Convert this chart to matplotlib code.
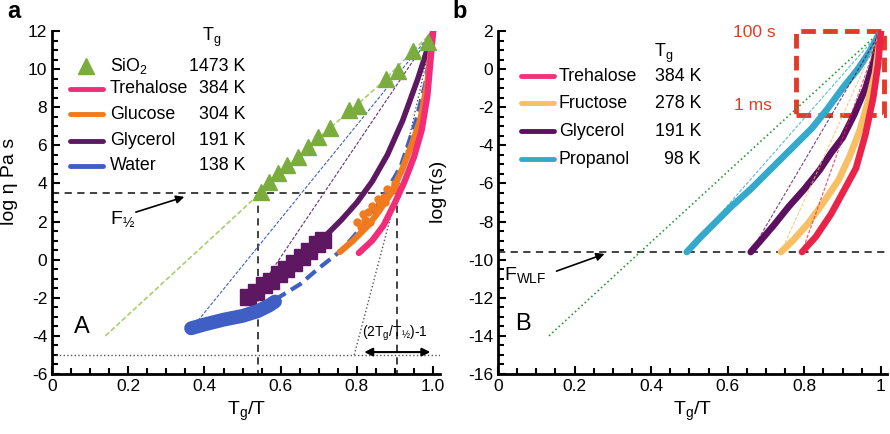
import numpy as np
import matplotlib.pyplot as plt
from matplotlib.patches import Rectangle

plt.rcParams['font.family'] = ['Liberation Sans', 'DejaVu Sans']
plt.rcParams['mathtext.default'] = 'regular'
plt.rcParams['axes.unicode_minus'] = False

# ---------------- panel a : log viscosity vs Tg/T ----------------
sio2_x = [0.549, 0.570, 0.593, 0.617, 0.646, 0.672, 0.698, 0.730, 0.780, 0.803, 0.877, 0.908, 0.948, 0.987]
sio2_y = [3.54, 4.07, 4.54, 4.96, 5.38, 5.91, 6.44, 6.91, 7.85, 8.06, 9.48, 9.90, 10.95, 11.42]
sio2_line_x = [0.14, 0.549, 0.70, 0.85, 1.0]
sio2_line_y = [-4.0, 3.54, 6.4, 9.0, 12.0]

treh_x = [0.805, 0.84, 0.87, 0.90, 0.925, 0.95, 0.97, 0.985, 1.0]
treh_y = [0.35, 1.0, 1.8, 3.0, 4.1, 5.4, 6.8, 8.6, 12.0]

gluc_x = [0.755, 0.79, 0.83, 0.86, 0.89, 0.92, 0.945, 0.967, 0.985, 1.0]
gluc_y = [0.4, 1.0, 1.8, 2.6, 3.5, 4.8, 6.1, 7.4, 9.3, 12.0]
gluc_pts_x = [0.80, 0.81, 0.815, 0.82, 0.83, 0.835, 0.84, 0.85, 0.855, 0.86, 0.87, 0.875, 0.88, 0.89, 0.90, 0.905]
gluc_pts_y = [2.0, 1.7, 2.4, 2.1, 2.5, 2.0, 2.8, 2.6, 3.2, 2.9, 3.3, 3.0, 3.7, 3.6, 4.0, 3.7]

glyc_sq_x = [0.515, 0.535, 0.555, 0.575, 0.595, 0.615, 0.635, 0.655, 0.675, 0.695, 0.712]
glyc_sq_y = [-1.95, -1.7, -1.35, -1.1, -0.75, -0.5, -0.15, 0.15, 0.45, 0.8, 1.05]
glyc_x = [0.72, 0.76, 0.80, 0.84, 0.88, 0.92, 0.96, 1.0]
glyc_y = [1.3, 2.1, 3.0, 4.1, 5.5, 7.3, 9.5, 12.0]
glyc_fit = ([0.572, 1.0], [-0.7, 12.0])

water_blob_x = [0.365, 0.40, 0.45, 0.50, 0.54, 0.57, 0.585]
water_blob_y = [-3.6, -3.4, -3.15, -2.95, -2.7, -2.4, -2.2]
water_x = [0.585, 0.65, 0.70, 0.76, 0.83, 0.875, 0.915, 0.955, 0.98, 1.0]
water_y = [-2.1, -1.3, -0.45, 0.5, 2.1, 3.5, 4.9, 7.3, 9.3, 12.0]
water_fit = ([0.383, 1.0], [-3.2, 12.0])

tangent_x = [0.793, 0.905, 1.0]
tangent_y = [-5.0, 3.5, 12.0]

names_a = ['SiO$_2$', 'Trehalose', 'Glucose', 'Glycerol', 'Water']
tg_a = ['1473 K', '384 K', '304 K', '191 K', '138 K']
col_a = ['#7aad3e', '#f22c78', '#f27a1e', '#5e1862', '#3f5fc4']

# ---------------- panel b : log tau vs Tg/T ----------------
green_b = ([0.133, 1.0], [-14.0, 2.0])

treh_b_x = [0.794, 0.83, 0.87, 0.90, 0.935, 0.96, 0.98, 0.993, 1.0]
treh_b_y = [-9.6, -8.8, -7.6, -6.5, -5.2, -3.4, -1.5, 0.3, 2.0]
fruc_x = [0.739, 0.77, 0.81, 0.85, 0.89, 0.92, 0.945, 0.965, 0.985, 1.0]
fruc_y = [-9.6, -9.0, -8.1, -7.0, -5.8, -4.5, -3.2, -1.8, -0.2, 2.0]
glyc_b_x = [0.66, 0.69, 0.72, 0.76, 0.80, 0.84, 0.87, 0.90, 0.93, 0.96, 0.98, 1.0]
glyc_b_y = [-9.6, -8.9, -8.2, -7.2, -6.3, -5.3, -4.4, -3.6, -2.4, -1.0, 0.3, 2.0]
prop_x = [0.493, 0.53, 0.57, 0.61, 0.66, 0.70, 0.74, 0.78, 0.82, 0.86, 0.90, 0.94, 0.97, 1.0]
prop_y = [-9.6, -8.8, -8.0, -7.2, -6.3, -5.5, -4.7, -3.9, -3.1, -2.1, -1.0, 0.0, 0.9, 2.0]

names_b = ['Trehalose', 'Fructose', 'Glycerol', 'Propanol']
tg_b = ['384 K', '278 K', '191 K', '98 K']
col_b = ['#ea2448', '#f8c063', '#5e1060', '#35a9cc']
leg_b = ['#f0337a', '#f8c063', '#5e1060', '#35a9cc']

fig = plt.figure(figsize=(8.9, 4.34), dpi=100)
axa = fig.add_axes([52 / 890, 60 / 434, 388 / 890, 343 / 434])
axb = fig.add_axes([498 / 890, 60 / 434, 389 / 890, 343 / 434])


def style(ax, ylim, xlim, xlabels, ylabel, lx, ly):
    ax.set_xlim(*xlim)
    ax.set_ylim(*ylim)
    for s in ['top', 'right']:
        ax.spines[s].set_visible(False)
    for s in ['left', 'bottom']:
        ax.spines[s].set_linewidth(2)
    ax.set_xticks([0, 0.2, 0.4, 0.6, 0.8, 1.0], xlabels)
    ax.set_xticks(np.arange(0, 1.01, 0.05), minor=True)
    ax.set_yticks(np.arange(ylim[0], ylim[1] + 0.1, 2))
    ax.set_yticks(np.arange(ylim[0], ylim[1] + 0.1, 0.5), minor=True)
    ax.tick_params(which='both', direction='in', width=1.5, labelsize=12.5)
    ax.tick_params(which='major', length=6)
    ax.tick_params(which='minor', length=4)
    ax.set_xlabel('T$_g$/T', fontsize=14, labelpad=4)
    ax.set_ylabel(ylabel, fontsize=14)
    ax.yaxis.set_label_coords(lx, ly)


style(axa, (-6, 12), (0, 1.018), ['0', '0.2', '0.4', '0.6', '0.8', '1.0'], 'log η Pa s', -0.088, 0.56)
style(axb, (-16, 2), (0, 1.016), ['0', '0.2', '0.4', '0.6', '0.8', '1'], 'log τ(s)', -0.13, 0.53)

# ---- panel a drawing ----
ref = dict(color='#333333', lw=1.3, dashes=(4, 3))
axa.axhline(3.5, **ref)
axa.plot([0.541, 0.541], [3.5, -6], **ref)
axa.plot([0.905, 0.905], [3.5, -6], **ref)
axa.axhline(-5.0, color='#555555', lw=1.0, ls=':')
axa.plot(tangent_x, tangent_y, color='#555555', lw=1.0, ls=':')

axa.plot(sio2_line_x, sio2_line_y, color='#a9cf6a', lw=1.2, dashes=(3, 1.5))
axa.plot(*water_fit, color='#3f5fc4', lw=0.8, dashes=(3, 1.5))
axa.plot(*glyc_fit, color='#6e2a74', lw=0.8, dashes=(3, 1.5))

axa.plot(glyc_x, glyc_y, color=col_a[3], lw=4, solid_capstyle='round')
axa.plot(glyc_sq_x, glyc_sq_y, 's', color=col_a[3], ms=12, mec=col_a[3])
axa.plot(water_blob_x, water_blob_y, color=col_a[4], lw=10, solid_capstyle='round')
axa.plot(water_x, water_y, color=col_a[4], lw=3, dashes=(3, 1.5))
axa.plot(gluc_x, gluc_y, color=col_a[2], lw=4.5, solid_capstyle='round')
axa.plot(gluc_pts_x, gluc_pts_y, 'o', color=col_a[2], ms=5)
axa.plot(treh_x, treh_y, color=col_a[1], lw=4.5, solid_capstyle='round')
axa.plot(sio2_x, sio2_y, '^', color=col_a[0], ms=11, mec=col_a[0])

axa.annotate('', xy=(0.354, 3.34), xytext=(0.213, 2.45),
             arrowprops=dict(arrowstyle='-|>', color='black', lw=1.2, mutation_scale=12))
axa.text(0.152, 2.1, 'F$_{½}$', fontsize=14, va='center')
axa.annotate('', xy=(0.812, -4.85), xytext=(1.0, -4.85),
             arrowprops=dict(arrowstyle='<|-|>', color='black', lw=1.5, mutation_scale=12))
axa.text(0.9, -3.85, '(2T$_g$/T$_{½}$)-1', fontsize=10, ha='center', va='center')
axa.text(0.078, -3.55, 'A', fontsize=17, ha='center', va='center')

# legend a
rows_a = [10.16, 8.96, 7.64, 6.23, 4.92]
axa.text(0.42, 11.68, 'T$_g$', fontsize=13, ha='center', va='center')
for i, (n, t, c) in enumerate(zip(names_a, tg_a, col_a)):
    y = rows_a[i]
    if i == 0:
        axa.plot(0.09, y, '^', color=c, ms=12, mec=c)
    else:
        axa.plot([0.047, 0.134], [y, y], color=c, lw=3.5, solid_capstyle='round')
    axa.text(0.152, y, n, fontsize=12.8, va='center')
    axa.text(0.507, y, t, fontsize=12.8, va='center', ha='right')

# ---- panel b drawing ----
axb.axhline(-9.6, **ref)
axb.plot(*green_b, color='#2e9a3c', lw=1.2, ls=':')
for xs, ys, c in [(prop_x, prop_y, col_b[3]), (glyc_b_x, glyc_b_y, col_b[2]),
                  (fruc_x, fruc_y, col_b[1]), (treh_b_x, treh_b_y, col_b[0])]:
    axb.plot([xs[0], xs[-1]], [ys[0], ys[-1]], color=c, lw=0.8, dashes=(3, 1.5), alpha=0.8)
    axb.plot(xs, ys, color=c, lw=4.8, solid_capstyle='round')

axb.add_patch(Rectangle((0.778, -2.4), 0.23, 4.4, fill=False, ec='#e33b27', lw=3.5,
                        ls=(0, (3, 1.5)), clip_on=False))
axb.text(0.726, 1.9, '100 s', color='#e33b27', fontsize=12.5, ha='right', va='center')
axb.text(0.716, -1.9, '1 ms', color='#e33b27', fontsize=12.5, ha='right', va='center')

axb.annotate('', xy=(0.285, -9.65), xytext=(0.146, -10.65),
             arrowprops=dict(arrowstyle='-|>', color='black', lw=1.2, mutation_scale=12))
axb.text(0.015, -10.8, 'F$_{WLF}$', fontsize=14, va='center')
axb.text(0.065, -13.4, 'B', fontsize=17, ha='center', va='center')

rows_b = [-0.37, -1.78, -3.25, -4.72]
axb.text(0.433, 0.84, 'T$_g$', fontsize=13, ha='center', va='center')
for i, (n, t, c) in enumerate(zip(names_b, tg_b, leg_b)):
    y = rows_b[i]
    axb.plot([0.06, 0.146], [y, y], color=c, lw=3.5, solid_capstyle='round')
    axb.text(0.159, y, n, fontsize=12.8, va='center')
    axb.text(0.53, y, t, fontsize=12.8, va='center', ha='right')

fig.text(14 / 890, 1 - 12 / 434, 'a', fontsize=17, fontweight='bold', ha='center', va='center')
fig.text(460 / 890, 1 - 12 / 434, 'b', fontsize=17, fontweight='bold', ha='center', va='center')

fig.savefig('out.png', dpi=100)
